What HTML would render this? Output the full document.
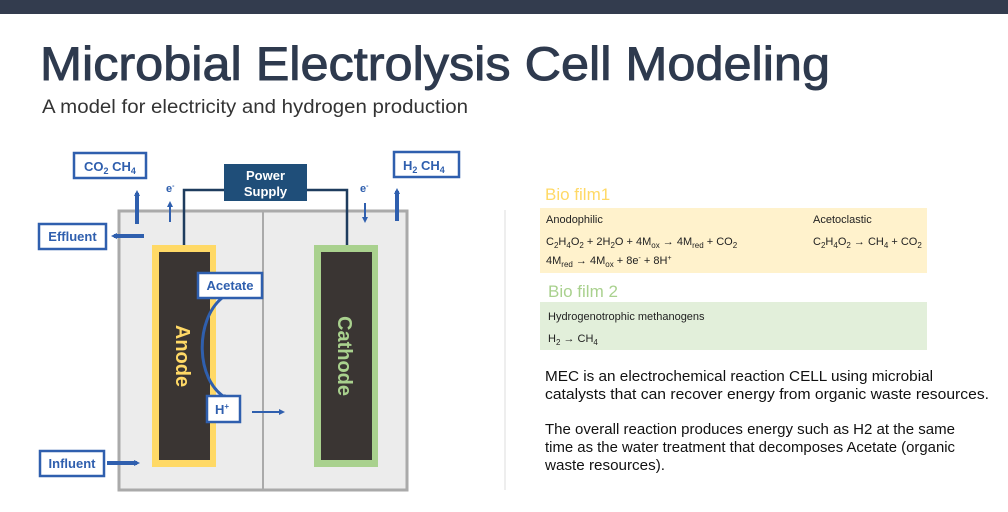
<!DOCTYPE html>
<html><head><meta charset="utf-8"><style>
html,body{margin:0;padding:0;background:#fff}
svg{display:block}
text{font-family:"Liberation Sans",sans-serif}
</style></head><body>
<svg width="1008" height="512" viewBox="0 0 1008 512" xmlns="http://www.w3.org/2000/svg">
<defs>
<marker id="ah" markerWidth="6" markerHeight="6" refX="3" refY="3" orient="auto" markerUnits="userSpaceOnUse"><path d="M0,0 L6,3 L0,6 z" fill="#2f5fae"/></marker>
</defs>
<rect x="0" y="0" width="1008" height="14" fill="#333c4e"/>
<text x="40" y="80" font-size="47" fill="#2e3a4e" stroke="#2e3a4e" stroke-width="0.9" textLength="790" lengthAdjust="spacingAndGlyphs">Microbial Electrolysis Cell Modeling</text>
<text x="42" y="113" font-size="19" fill="#333" textLength="426" lengthAdjust="spacingAndGlyphs">A model for electricity and hydrogen production</text>

<rect x="119" y="211" width="288" height="279" fill="#ececec" stroke="#aaa" stroke-width="3"/>
<line x1="263" y1="211" x2="263" y2="490" stroke="#aaa" stroke-width="2"/>
<polyline points="184,245 184,190 224,190" fill="none" stroke="#1e3c5e" stroke-width="2.5"/>
<polyline points="307,190 347,190 347,245" fill="none" stroke="#1e3c5e" stroke-width="2.5"/>
<rect x="224" y="164" width="83" height="37" fill="#1f4e79"/>
<text x="265.5" y="180" font-size="13" font-weight="bold" fill="#fff" text-anchor="middle">Power</text>
<text x="265.5" y="196" font-size="13" font-weight="bold" fill="#fff" text-anchor="middle">Supply</text>
<rect x="152" y="245" width="64" height="222" fill="#ffd966"/>
<rect x="159" y="252" width="51" height="208" fill="#3a3533"/>
<rect x="314" y="245" width="64" height="222" fill="#a9d18e"/>
<rect x="321" y="252" width="51" height="208" fill="#3a3533"/>
<text transform="translate(176,356) rotate(90)" font-size="20" font-weight="bold" fill="#ffd966" text-anchor="middle">Anode</text>
<text transform="translate(338,356) rotate(90)" font-size="20" font-weight="bold" fill="#a9d18e" text-anchor="middle">Cathode</text>
<path d="M222,298 C195,320 195,380 226,398" fill="none" stroke="#2f5fae" stroke-width="3" marker-end="url(#ah)"/>
<g fill="#fff" stroke="#2f5fae" stroke-width="2.5">
<rect x="74" y="153" width="72" height="25"/>
<rect x="394" y="152" width="65" height="25"/>
<rect x="39" y="224" width="67" height="25"/>
<rect x="40" y="451" width="64" height="25"/>
<rect x="198" y="273" width="64" height="25"/>
<rect x="207" y="396" width="33" height="26"/>
</g>
<g font-size="13" font-weight="bold" fill="#2f5fae">
<text x="84" y="171">CO<tspan font-size="9" dy="3">2</tspan><tspan dy="-3"> CH</tspan><tspan font-size="9" dy="3">4</tspan></text>
<text x="403" y="170">H<tspan font-size="9" dy="3">2</tspan><tspan dy="-3">  CH</tspan><tspan font-size="9" dy="3">4</tspan></text>
<text x="72.5" y="241" text-anchor="middle">Effluent</text>
<text x="72" y="468" text-anchor="middle">Influent</text>
<text x="230" y="290" text-anchor="middle">Acetate</text>
<text x="215" y="414">H<tspan font-size="8" dy="-5">+</tspan></text>
<text x="166" y="192" font-size="11">e<tspan font-size="7" dy="-4">-</tspan></text>
<text x="360" y="192" font-size="11">e<tspan font-size="7" dy="-4">-</tspan></text>
</g>
<g stroke="#2f5fae" fill="none">
<line x1="137" y1="224" x2="137" y2="193" stroke-width="4" marker-end="url(#ah)"/>
<line x1="397" y1="221" x2="397" y2="191" stroke-width="4" marker-end="url(#ah)"/>
<line x1="170" y1="222" x2="170" y2="204" stroke-width="2" marker-end="url(#ah)"/>
<line x1="365" y1="203" x2="365" y2="220" stroke-width="2" marker-end="url(#ah)"/>
<line x1="144" y1="236" x2="114" y2="236" stroke-width="4" marker-end="url(#ah)"/>
<line x1="107" y1="463" x2="137" y2="463" stroke-width="4" marker-end="url(#ah)"/>
<line x1="252" y1="412" x2="282" y2="412" stroke-width="2" marker-end="url(#ah)"/>
</g>
<line x1="505" y1="210" x2="505" y2="490" stroke="#ddd" stroke-width="1"/>

<text x="545" y="200" font-size="17" fill="#ffd966">Bio film1</text>
<rect x="540" y="208" width="387" height="65" fill="#fff2cc"/>
<g font-size="11" fill="#222">
<text x="546" y="223">Anodophilic</text>
<text x="813" y="223">Acetoclastic</text>
<text x="546" y="245">C<tspan font-size="8" dy="3">2</tspan><tspan dy="-3">H</tspan><tspan font-size="8" dy="3">4</tspan><tspan dy="-3">O</tspan><tspan font-size="8" dy="3">2</tspan><tspan dy="-3"> + 2H</tspan><tspan font-size="8" dy="3">2</tspan><tspan dy="-3">O + 4M</tspan><tspan font-size="8" dy="3">ox</tspan><tspan dy="-3"> → 4M</tspan><tspan font-size="8" dy="3">red</tspan><tspan dy="-3"> + CO</tspan><tspan font-size="8" dy="3">2</tspan></text>
<text x="813" y="245">C<tspan font-size="8" dy="3">2</tspan><tspan dy="-3">H</tspan><tspan font-size="8" dy="3">4</tspan><tspan dy="-3">O</tspan><tspan font-size="8" dy="3">2</tspan><tspan dy="-3"> → CH</tspan><tspan font-size="8" dy="3">4</tspan><tspan dy="-3"> + CO</tspan><tspan font-size="8" dy="3">2</tspan></text>
<text x="546" y="264">4M<tspan font-size="8" dy="3">red</tspan><tspan dy="-3"> → 4M</tspan><tspan font-size="8" dy="3">ox</tspan><tspan dy="-3"> + 8e</tspan><tspan font-size="7" dy="-4">-</tspan><tspan dy="4"> + 8H</tspan><tspan font-size="7" dy="-4">+</tspan></text>
</g>
<text x="548" y="297" font-size="17" fill="#a9d18e">Bio film 2</text>
<rect x="540" y="302" width="387" height="48" fill="#e2efda"/>
<g font-size="11" fill="#222">
<text x="548" y="320">Hydrogenotrophic methanogens</text>
<text x="548" y="342">H<tspan font-size="8" dy="3">2</tspan><tspan dy="-3"> → CH</tspan><tspan font-size="8" dy="3">4</tspan></text>
</g>
<g font-size="15" fill="#111">
<text x="545" y="381" textLength="388" lengthAdjust="spacingAndGlyphs">MEC is an electrochemical reaction CELL using microbial</text>
<text x="545" y="399" textLength="444" lengthAdjust="spacingAndGlyphs">catalysts that can recover energy from organic waste resources.</text>
<text x="545" y="434" textLength="410" lengthAdjust="spacingAndGlyphs">The overall reaction produces energy such as H2 at the same</text>
<text x="545" y="452" textLength="410" lengthAdjust="spacingAndGlyphs">time as the water treatment that decomposes Acetate (organic</text>
<text x="545" y="470" textLength="120" lengthAdjust="spacingAndGlyphs">waste resources).</text>
</g>
</svg>
</body></html>
